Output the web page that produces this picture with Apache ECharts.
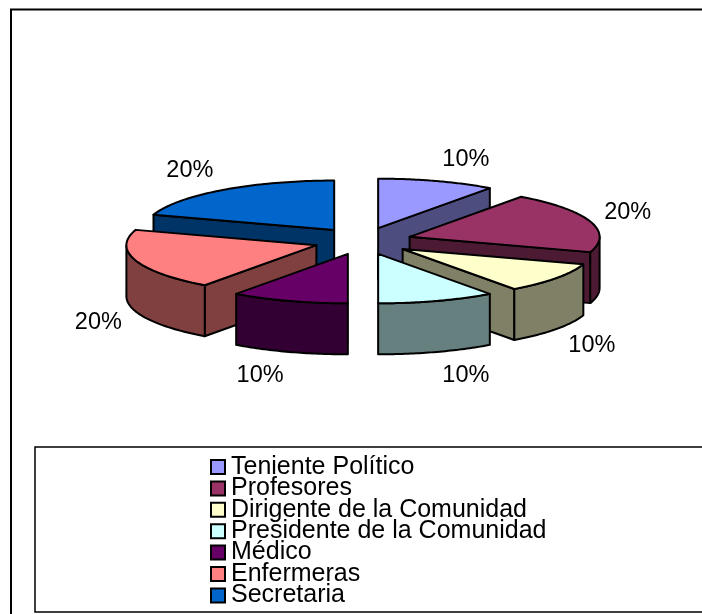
<!DOCTYPE html>
<html>
<head>
<meta charset="utf-8">
<style>html,body{margin:0;padding:0;background:#fff}#c{width:702px;height:614px}</style>
<script src="https://cdn.jsdelivr.net/npm/echarts@6/dist/echarts.min.js"></script>
</head>
<body>
<div id="c"></div>
<script>
const categories = ['Teniente Político','Profesores','Dirigente de la Comunidad','Presidente de la Comunidad','Médico','Enfermeras','Secretaria'];
const values = [10,20,10,10,10,20,20];
const topColors = ['#9999FF','#993366','#FFFFCC','#CCFFFF','#660066','#FF8080','#0066CC'];
const sideColors = ['#4D4D80','#4D1A33','#808066','#668080','#330033','#804040','#003366'];
const drawOrder = [1,2,3,4,7,6,5];

const CX=363, CY=241, A=190, B=49.5, DEPTH=51, EX=49, EY=13.5;
const total = values.reduce((a,b)=>a+b,0);
const FONT = '"Liberation Sans", Arial, sans-serif';

function wedge(i, api){
  let acc = 0; for(let k=0;k<i;k++) acc += values[k];
  const t0 = acc/total*Math.PI*2, t1 = (acc+values[i])/total*Math.PI*2, mid=(t0+t1)/2;
  const ax = CX+EX*Math.sin(mid), ay = CY-EY*Math.cos(mid);
  const pt = (t,d)=>[ax+A*Math.sin(t), ay-B*Math.cos(t)+(d||0)];
  const lineStyle = {stroke:'#000', lineWidth:2, lineJoin:'round'};
  const kids = [];
  const face = (points,fill)=>kids.push({type:'polygon',shape:{points},style:Object.assign({fill},lineStyle)});
  const radial = t => face([[ax,ay],pt(t),pt(t,DEPTH),[ax,ay+DEPTH]], sideColors[i]);
  if(Math.sin(t0) < -1e-6) radial(t0);
  if(Math.sin(t1) >  1e-6) radial(t1);
  const s = Math.max(t0,Math.PI/2), e = Math.min(t1,Math.PI*1.5);
  if(e>s){
    const n=40, up=[], down=[];
    for(let k=0;k<=n;k++){const t=s+(e-s)*k/n; up.push(pt(t)); down.unshift(pt(t,DEPTH));}
    face(up.concat(down), sideColors[i]);
  }
  const topPts=[[ax,ay]]; const n=60;
  for(let k=0;k<=n;k++) topPts.push(pt(t0+(t1-t0)*k/n));
  face(topPts, topColors[i]);
  const sn=Math.sin(mid), cs=Math.cos(mid), m=pt(mid, cs<0?DEPTH:0);
  kids.push({type:'text',x:m[0]+Math.sign(sn)*(25+13*Math.abs(sn)),y:m[1]-Math.sign(cs)*(4+20*Math.abs(cs))+1,
    style:{text:Math.round(values[i]/total*100)+'%',font:'23.5px '+FONT,fill:'#000',align:'center',verticalAlign:'middle'}});
  return {type:'group',children:kids};
}

const series = categories.map((name,i)=>({
  name, type:'custom', coordinateSystem:'none', z:drawOrder[i], silent:true, animation:false,
  itemStyle:{color:topColors[i],borderColor:'#000',borderWidth:2},
  data:[values[i]], renderItem:(p,api)=>wedge(i,api)
}));

const chart = echarts.init(document.getElementById('c'),null,{renderer:'canvas'});
chart.setOption({
  animation:false, backgroundColor:'#fff',
  graphic:[
    {type:'rect',z:0,shape:{x:11,y:9.5,width:720,height:640},style:{fill:'none',stroke:'#000',lineWidth:2}},
    {type:'rect',z:0,shape:{x:35,y:447,width:700,height:165},style:{fill:'none',stroke:'#000',lineWidth:1.5}}
  ],
  legend:{
    data:categories, orient:'vertical', left:210, top:454.5, padding:0, itemWidth:14, itemHeight:14, itemGap:-3.6,
    icon:'rect', selectedMode:false,
    textStyle:{fontFamily:FONT,fontSize:25,color:'#000',padding:[0,0,0,1]}
  },
  series
});
</script>
</body>
</html>
